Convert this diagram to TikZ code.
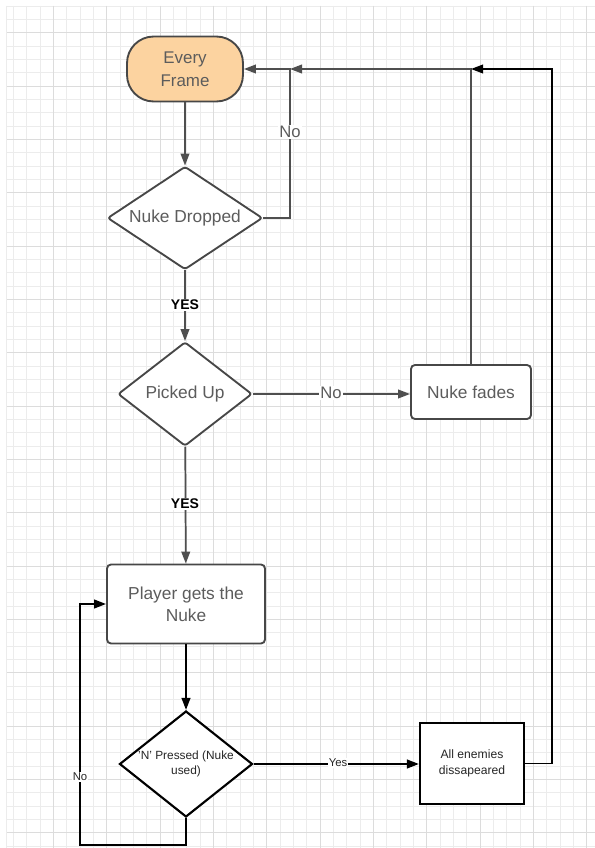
\documentclass[tikz,border=0pt]{standalone}
\usepackage{fontspec}
\setmainfont{Liberation Sans}
\usetikzlibrary{shapes.geometric,arrows.meta}

\definecolor{frameorange}{HTML}{FCD3A0}
\definecolor{shapegray}{HTML}{474747}
\definecolor{linegray}{HTML}{4F4F4F}
\definecolor{textgray}{HTML}{5C5C5C}
\definecolor{gridminor}{HTML}{ECECEC}
\definecolor{gridmajor}{HTML}{DCDCDC}

\begin{document}
\begin{tikzpicture}[x=0.75pt,y=-0.75pt,
  shapebase/.style={draw=shapegray, line width=1.4pt, fill=white, align=center,
    text=textgray, inner sep=0pt, font=\fontsize{13}{16.5}\selectfont},
  terminal/.style={shapebase, fill=frameorange, rounded corners=20pt},
  process/.style={shapebase, rounded corners=3pt},
  decision/.style={shapebase, diamond, rounded corners=2pt},
  decisionk/.style={diamond, draw=black, line width=1.6pt, fill=white, align=center,
    inner sep=0pt, text=black!85, font=\fontsize{8.9}{11}\selectfont},
  processk/.style={draw=black, line width=1.6pt, fill=white, align=center,
    inner sep=0pt, text=black!85, font=\fontsize{9.1}{11.5}\selectfont},
  flow/.style={draw=linegray, line width=1.3pt, -{Triangle[length=9pt,width=6.5pt]}},
  flowk/.style={draw=black, line width=1.5pt, -{Triangle[length=9pt,width=6.5pt]}},
  lab/.style={fill=white, inner sep=1pt, text=textgray, font=\fontsize{12.5}{14}\selectfont},
  labbold/.style={fill=white, inner sep=1pt, text=black, font=\bfseries\fontsize{10.5}{12}\selectfont},
  labk/.style={fill=white, inner sep=0.5pt, text=black!85, font=\fontsize{8.5}{10}\selectfont},
  gminor/.style={draw=gridminor, line width=0.6pt},
  gmajor/.style={draw=gridmajor, line width=0.7pt}]

\useasboundingbox (0,0) rectangle (595,848);
\fill[white] (0,0) rectangle (595,848);

% background grid
\foreach \i in {0,...,43} {
  \draw[gminor] ({13.4+13.333*\i},6) -- ({13.4+13.333*\i},848);
}
\foreach \i in {0,...,63} {
  \draw[gminor] (6,{6+13.333*\i}) -- (595,{6+13.333*\i});
}
\foreach \i in {3,7,...,43} {
  \draw[gmajor] ({13.4+13.333*\i},6) -- ({13.4+13.333*\i},848);
}
\foreach \i in {2,6,...,63} {
  \draw[gmajor] (6,{6+13.333*\i}) -- (595,{6+13.333*\i});
}
\draw[gminor] (6,6) -- (6,848);

% shapes
\node[terminal, minimum width=87pt, minimum height=48.75pt, font=\fontsize{12.7}{17}\selectfont]
  (ef) at (185,69) {Every\\Frame};
\node[decision, shape aspect=1.5, minimum width=116.25pt, minimum height=77.25pt]
  (nd) at (185,218) {Nuke Dropped};
\node[decision, shape aspect=1.3, minimum width=100.5pt, minimum height=78pt]
  (pu) at (185,394) {Picked Up};
\node[process, minimum width=90pt, minimum height=40.5pt]
  (nf) at (471,392) {Nuke fades};
\node[process, minimum width=118.5pt, minimum height=59.25pt]
  (pg) at (186,604) {Player gets the\\Nuke};
\node[decisionk, shape aspect=1.25, minimum width=99.75pt, minimum height=79.5pt]
  (np) at (186,764) {'N' Pressed (Nuke\\used)};
\node[processk, minimum width=78pt, minimum height=60.75pt]
  (ae) at (472,763.5) {All enemies\\dissapeared};

% junction points of the return lines
\coordinate (j1) at (290,69);
\coordinate (j2) at (552,69);
\coordinate (j4) at (80,845);

% connectors
\draw[flow] (ef) -- (nd);
\draw[flow] (nd.east) -| (j1) -- (ef.east);
\draw[flow] (nf.north) |- (j1);
\draw[flow] (nd) -- (pu);
\draw[flow] (pu.east) -- (nf.west |- pu.east);
\draw[flow] (pu) -- (pg);
\draw[flowk] (pg) -- (np);
\draw[flowk] (np.east) -- (ae.west |- np.east);
\draw[flowk, line width=1.2pt] (ae.east) -| (j2) -- (nf.north |- j2);
\draw[flowk] (np.south) |- (j4) |- (pg.west);

% connector labels
\node[lab] (lno1) at (290,132) {No};
\node[labbold] (lyes1) at (185,305) {YES};
\node[lab] (lno2) at (331,393) {No};
\node[labbold] (lyes2) at (185,504) {YES};
\node[labk] (lyes3) at (338,763) {Yes};
\node[labk] (lno3) at (80,777) {No};

\end{tikzpicture}
\end{document}
